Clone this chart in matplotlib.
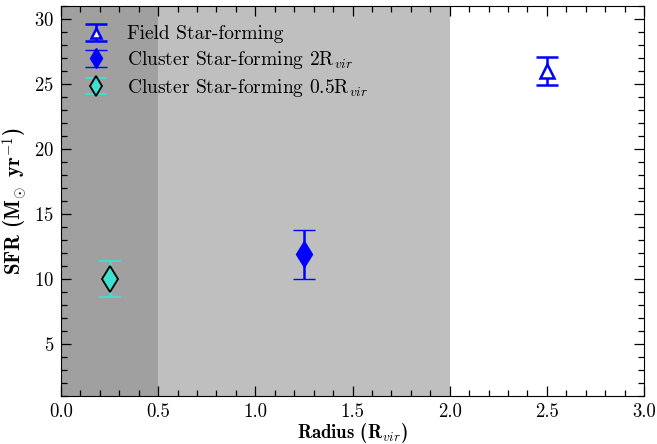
import matplotlib
matplotlib.use("Agg")
import matplotlib.pyplot as plt
from matplotlib.container import ErrorbarContainer
from matplotlib.legend_handler import HandlerErrorbar

plt.rcParams['font.family'] = 'cmr10'
plt.rcParams['mathtext.fontset'] = 'cm'
plt.rcParams['axes.formatter.use_mathtext'] = True

# data
labels = ["Field Star-forming",
          "Cluster Star-forming 2R$_{vir}$",
          "Cluster Star-forming 0.5R$_{vir}$"]
radius = [2.5, 1.25, 0.25]
sfr = [26.0, 11.9, 10.0]
sfr_err = [1.1, 1.9, 1.4]

# shaded radial zones
inner_zone = (0.0, 0.5)
outer_zone = (0.5, 2.0)

fig = plt.figure(figsize=(6.57, 4.44), dpi=100)
ax = fig.add_axes([61/657, 1 - 396/444, 583/657, 390/444])

ax.axvspan(inner_zone[0], inner_zone[1], color="#a0a0a0", lw=0, zorder=0)
ax.axvspan(outer_zone[0], outer_zone[1], color="#bfbfbf", lw=0, zorder=0)

# field
ax.errorbar(radius[0], sfr[0], yerr=sfr_err[0], fmt="^", ms=10,
            mfc="white", mec="blue", mew=1.8, ecolor="blue", elinewidth=1.8,
            capsize=8, capthick=1.8, label=labels[0])
# cluster 2Rvir
ax.errorbar(radius[1], sfr[1], yerr=sfr_err[1], fmt="d", ms=13,
            mfc="blue", mec="blue", mew=1, ecolor="blue", elinewidth=1.8,
            capsize=8, capthick=1.8, label=labels[1])
# cluster 0.5Rvir
ax.errorbar(radius[2], sfr[2], yerr=sfr_err[2], fmt="d", ms=13,
            mfc="turquoise", mec="black", mew=1.3, ecolor="turquoise",
            elinewidth=1.8, capsize=8, capthick=1.8, label=labels[2])

ax.set_xlim(0, 3)
ax.set_ylim(1, 31)
ax.set_xticks([0, 0.5, 1.0, 1.5, 2.0, 2.5, 3.0])
ax.set_xticklabels(["0.0", "0.5", "1.0", "1.5", "2.0", "2.5", "3.0"])
ax.set_yticks([5, 10, 15, 20, 25, 30])
ax.minorticks_on()
ax.tick_params(which="both", direction="in", top=True, right=True, labelsize=13.5)
ax.tick_params(which="major", length=7, width=0.9, pad=5)
ax.tick_params(which="minor", length=4, width=0.9)

ax.set_xlabel("Radius (R$_{vir}$)", family="cmb10", fontsize=13.5, labelpad=0)
ax.set_ylabel(r"SFR (M$_{\odot}\,$ yr$^{-1}$)", family="cmb10", fontsize=15,
              labelpad=3)

ax.legend(loc="upper left", frameon=False, fontsize=14, handletextpad=0.8,
          handlelength=1.6, borderaxespad=0.6, labelspacing=0.3,
          markerscale=0.75,
          handler_map={ErrorbarContainer: HandlerErrorbar(xerr_size=0.5, yerr_size=0.42)})

fig.savefig("out.png", dpi=100)
